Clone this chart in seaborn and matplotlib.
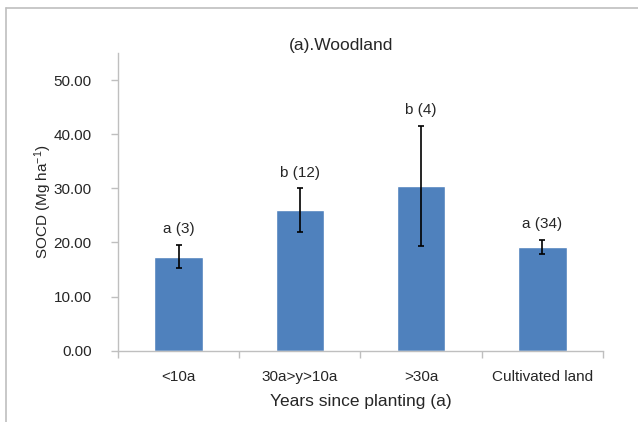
import matplotlib
matplotlib.use("Agg")
import matplotlib.pyplot as plt
import numpy as np
import pandas as pd
import seaborn as sns
from matplotlib.lines import Line2D

# data
categories = ["<10a", "30a>y>10a", ">30a", "Cultivated land"]
socd_mean = [17.4, 26.0, 30.5, 19.2]
socd_err = [2.2, 4.0, 11.1, 1.3]
letters = ["a (3)", "b (12)", "b (4)", "a (34)"]
y_ticks = [0, 10, 20, 30, 40, 50]

df = pd.DataFrame({"group": categories, "socd": socd_mean})

sns.set_style("white")
plt.rcParams["font.family"] = ["Liberation Sans", "DejaVu Sans"]
plt.rcParams["mathtext.fontset"] = "custom"
plt.rcParams["mathtext.rm"] = "Liberation Sans"
plt.rcParams["mathtext.default"] = "rm"

fig = plt.figure(figsize=(6.38, 4.22), dpi=100)
ax = fig.add_axes([0.185, 0.169, 0.76, 0.705])

sns.barplot(data=df, x="group", y="socd", color="#4F81BD", saturation=1,
            width=0.4, errorbar=None, ax=ax)

# error bars and significance letters on top of each bar
for i, (m, e, lab) in enumerate(zip(socd_mean, socd_err, letters)):
    ax.errorbar(i, m, yerr=e, fmt="none", ecolor="black", elinewidth=1.2,
                capsize=2.5, capthick=1.2)
    ax.annotate(lab, (i, m + e), xytext=(0, 6), textcoords="offset points",
                ha="center", va="bottom", fontsize=11)

ax.set_ylim(0, 55)
ax.set_xlim(-0.5, len(categories) - 0.5)
ax.set_yticks(y_ticks)
ax.set_yticklabels([f"{v:.2f}" for v in y_ticks], fontsize=11)
ax.tick_params(axis="y", length=5, width=1, color="#BFBFBF", direction="out",
               pad=14, left=True)
ax.set_xticks(range(len(categories)))
ax.set_xticklabels(categories, fontsize=11)
ax.set_xticks(np.arange(-0.5, len(categories), 1), minor=True)
ax.tick_params(axis="x", which="major", length=0, pad=14)
ax.tick_params(axis="x", which="minor", length=5, width=1, color="#BFBFBF",
               direction="out", bottom=True)

for side in ["top", "right"]:
    ax.spines[side].set_visible(False)
for side in ["left", "bottom"]:
    ax.spines[side].set_color("#BFBFBF")
    ax.spines[side].set_linewidth(1)

ax.set_xlabel("Years since planting (a)", fontsize=12.5, labelpad=7)
ax.set_ylabel("SOCD (Mg ha$^{-1}$)", fontsize=11, va="center")
ax.yaxis.set_label_coords(-0.155, 0.5)

fig.text(0.535, 0.893, "(a).Woodland", ha="center", va="center", fontsize=12.5)

# outer chart frame (only top and left edges are visible in the crop)
fig.add_artist(Line2D([0.0094, 1.0], [0.981, 0.981], transform=fig.transFigure,
                      color="#BFBFBF", lw=1.2))
fig.add_artist(Line2D([0.0094, 0.0094], [0.0, 0.981], transform=fig.transFigure,
                      color="#BFBFBF", lw=1.2))

fig.savefig("out.png", dpi=100)
